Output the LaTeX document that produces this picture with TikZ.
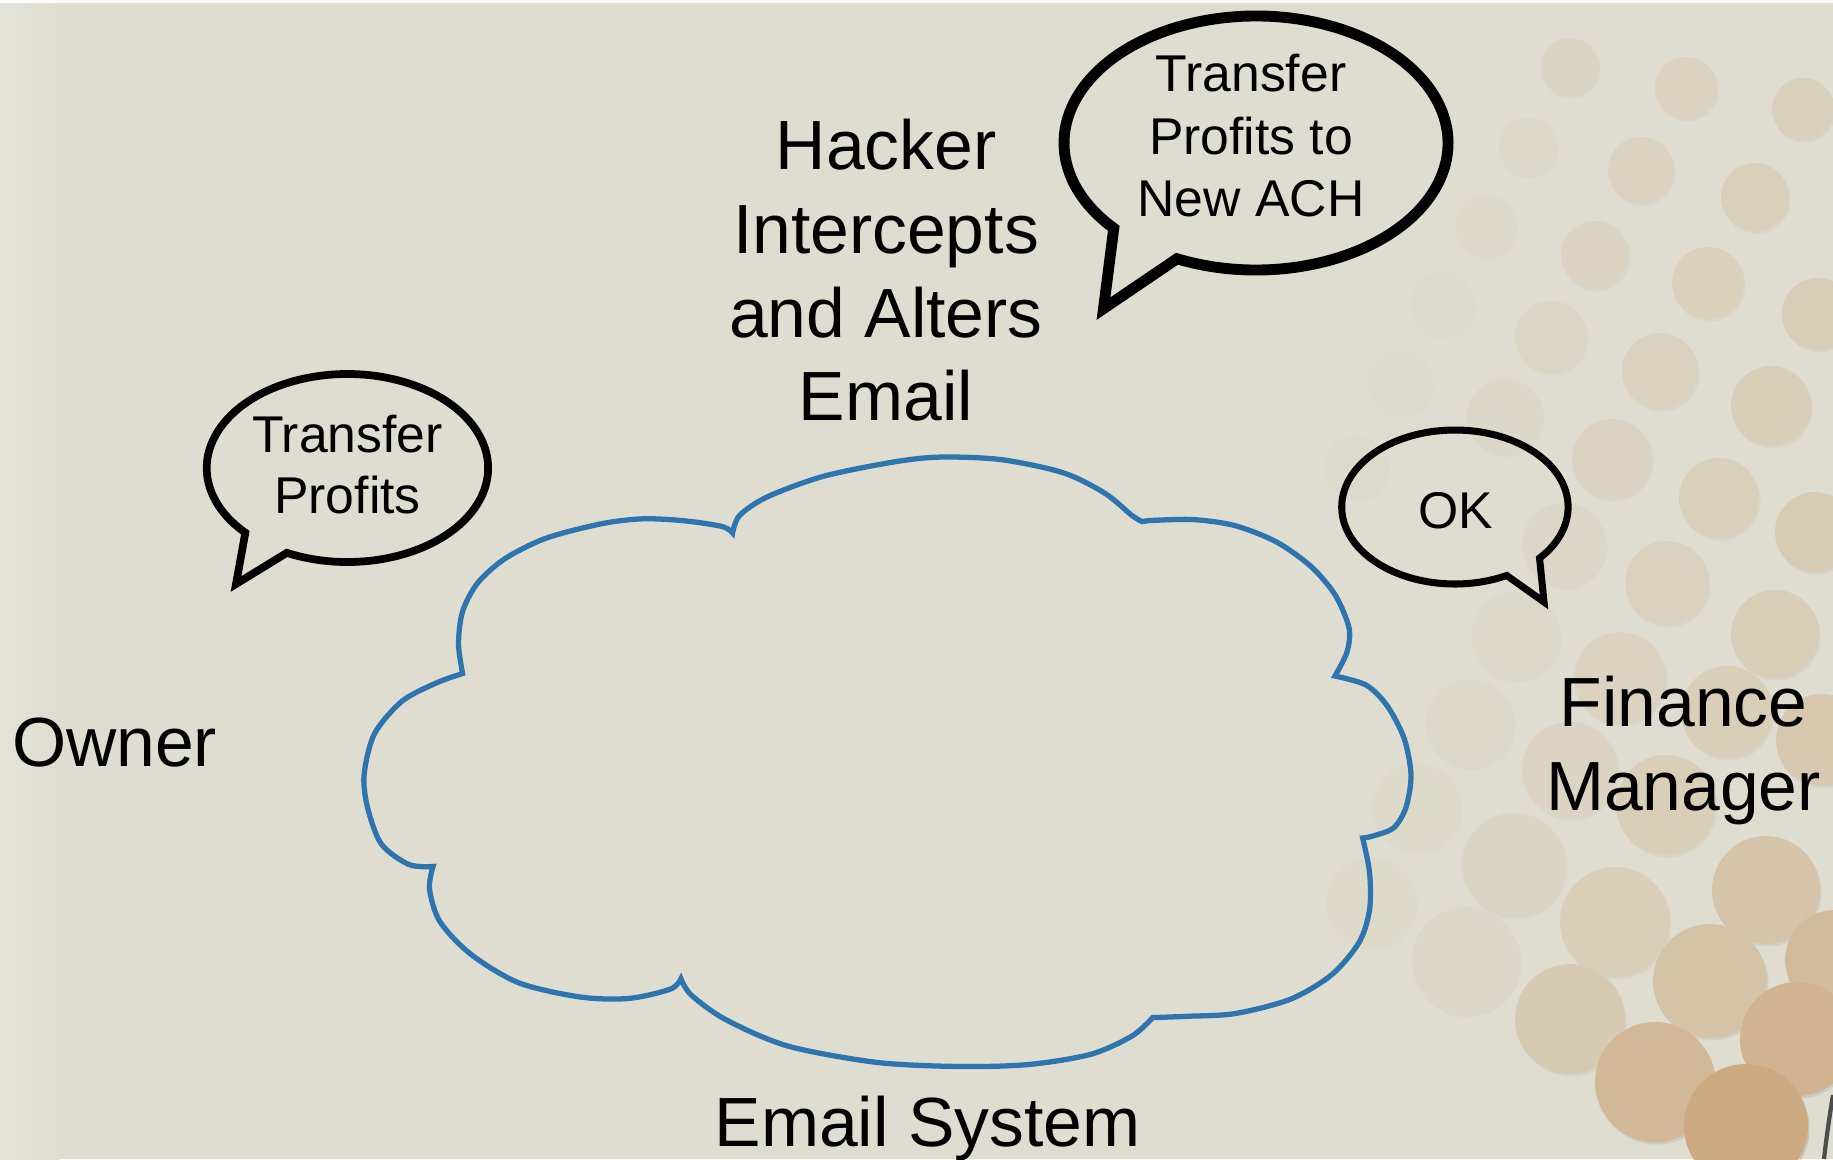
\documentclass[tikz,border=0pt]{standalone}
\usepackage{fontspec}
\setmainfont{Liberation Sans}
\definecolor{bgc}{RGB}{222,221,207}
\definecolor{tanc}{RGB}{196,146,94}
\definecolor{cloudc}{RGB}{46,117,176}
\tikzset{
  big/.style={font=\fontsize{19.8}{23.8}\selectfont, inner sep=0pt, anchor=base},
  small/.style={font=\fontsize{14.7}{17.8}\selectfont, inner sep=0pt, anchor=base},
  cloudline/.style={draw=cloudc, line width=1.5pt, line join=miter},
  bubble/.style={draw=black, line join=miter, miter limit=6}
}
\begin{document}
\begin{tikzpicture}[x=0.01cm,y=0.01cm]
\useasboundingbox (0,0) rectangle (1833,1159);
% background
\fill[bgc] (0,0) rectangle (1833,1159);
\shade[left color=white!18!bgc, right color=bgc] (0,0) rectangle (60,1159);
\fill[white] (0,1156) rectangle (1833,1159);
% decorative dots
\foreach \cx/\cy/\r/\p in {
 1570/1092/29/10, 1686/1071/31/13, 1803/1050/31/18,
 1528/1012/29/5, 1641/989/33/13, 1755/962/34/18,
 1486/933/31/4, 1595/904/34/12, 1708/876/36/17, 1818/845/36/22,
 1442/855/32/3, 1551/822/36/9, 1660/788/38/15, 1771/753/40/20,
 1400/776/32/3, 1505/742/38/6, 1612/700/40/12, 1719/661/40/18, 1815/627/40/24,
 1356/692/32/3, 1564/614/42/8, 1667/576/42/15, 1775/525/44/22,
 1516/523/44/5, 1620/481/46/13, 1727/447/46/20, 1822/419/46/28,
 1470/435/44/5, 1570/389/48/12, 1666/354/50/20,
 1417/351/44/4, 1514/294/52/10, 1615/237/55/20, 1766/269/54/33, 1835/199/50/45,
 1371/256/45/4, 1466/198/54/8, 1570/140/55/25, 1710/178/57/35, 1797/120/57/55,
 1655/77/60/50, 1746/33/62/70}
{
  \pgfmathsetmacro\op{\p/700+0.008}
  \fill[black, opacity=\op] (\cx+1.5,\cy-2.5) circle (\r);
  \fill[tanc!\p!bgc] (\cx,\cy) circle (\r);
}
\draw[gray!60!black, line width=1.2pt] (1833,64) .. controls (1829,40) and (1826,18) .. (1824,0);
% cloud (email system)
\draw[cloudline]
 plot[smooth] coordinates {(462.6,485.5) (458.5,515) (462.6,547.6) (477.7,576.1) (505.3,600.6) (546.6,621) (601.7,635.3) (643,640.2) (684.4,638.2) (722.2,632.5) (732.6,626)}
 -- plot[smooth] coordinates {(732.6,626) (739.5,643.5) (767,662) (822,682.3) (891,696.6) (939.2,701.9) (1001,699.4) (1063,686.3) (1104.5,666) (1132,643.5) (1142.3,637.4)}
 -- plot[smooth] coordinates {(1142.3,637.4) (1152.7,638.6) (1194,639.4) (1235.3,633.3) (1276.6,617) (1311,592.5) (1335.2,564) (1349,531.2) (1347,507) (1335,483)}
 -- plot[smooth] coordinates {(1335,483) (1366,474) (1386.8,453.7) (1404,421) (1411,384.3) (1406,351.7) (1393.7,331.2) (1373,323) (1362.7,321)}
 -- plot[smooth] coordinates {(1362.7,321) (1369.6,286.3) (1369.6,249.6) (1359.3,217) (1331.7,184.3) (1290.4,159.8) (1235.3,145.5) (1187,142.7) (1152.7,141.4)}
 -- plot[smooth] coordinates {(1152.7,141.4) (1132,123) (1090.7,104.7) (1028.7,94.5) (960,92.5) (877,96.6) (787.7,113) (725.7,139.4) (691.2,164) (681,180.2)}
 -- plot[smooth] coordinates {(681,180.2) (670.6,170) (629.3,160.6) (581,161.9) (519,176.1) (470.9,204.7) (439.9,237.4) (429.5,270) (433,292.5)}
 -- plot[smooth] coordinates {(433,292.5) (408.9,294.5) (381.3,315) (367.5,351.7) (364.1,384.3) (374.4,425.1) (402,457.8) (436.4,476.1) (462.6,485.5)}
 -- cycle;
% speech bubbles
\coordinate (b1c) at (1256,1016);
\coordinate (b1tip) at (1103.5,850.4);
\draw[bubble, line width=3.1pt] (b1c) ++(245.7:192 and 127)
  arc[start angle=245.7, end angle=582.2, x radius=192, y radius=127] -- (b1tip) -- cycle;
\coordinate (b2c) at (347.4,691);
\coordinate (b2tip) at (236,575);
\draw[bubble, line width=2.2pt] (b2c) ++(244.5:140.7 and 94)
  arc[start angle=244.5, end angle=583.5, x radius=140.7, y radius=94] -- (b2tip) -- cycle;
\coordinate (b3c) at (1454.9,652);
\coordinate (b3tip) at (1544,557);
\draw[bubble, line width=2.0pt] (b3c) ++(318.4:113.2 and 77)
  arc[start angle=318.4, end angle=657.2, x radius=113.2, y radius=77] -- (b3tip) -- cycle;
% bubble texts
\node[small] (t1a) at (1251,1067.8) {Transfer};
\node[small] (t1b) at (1251,1004.7) {Profits to};
\node[small] (t1c) at (1251,942.7) {New ACH};
\node[small] (t2a) at (347.5,707) {Transfer};
\node[small] (t2b) at (347.5,645.5) {Profits};
\node[small] (t3) at (1456,630.5) {OK};
% labels
\node[big] (h1) at (886,989.5) {Hacker};
\node[big] (h2) at (886,905.3) {Intercepts};
\node[big] (h3) at (886,821.2) {and Alters};
\node[big] (h4) at (886,738.2) {Email};
\node[big] (owner) at (114.6,392.1) {Owner};
\node[big] (fm1) at (1683.5,433) {Finance};
\node[big] (fm2) at (1683.5,348.5) {Manager};
\node[big] (es) at (927.6,12.2) {Email System};
\end{tikzpicture}
\end{document}
